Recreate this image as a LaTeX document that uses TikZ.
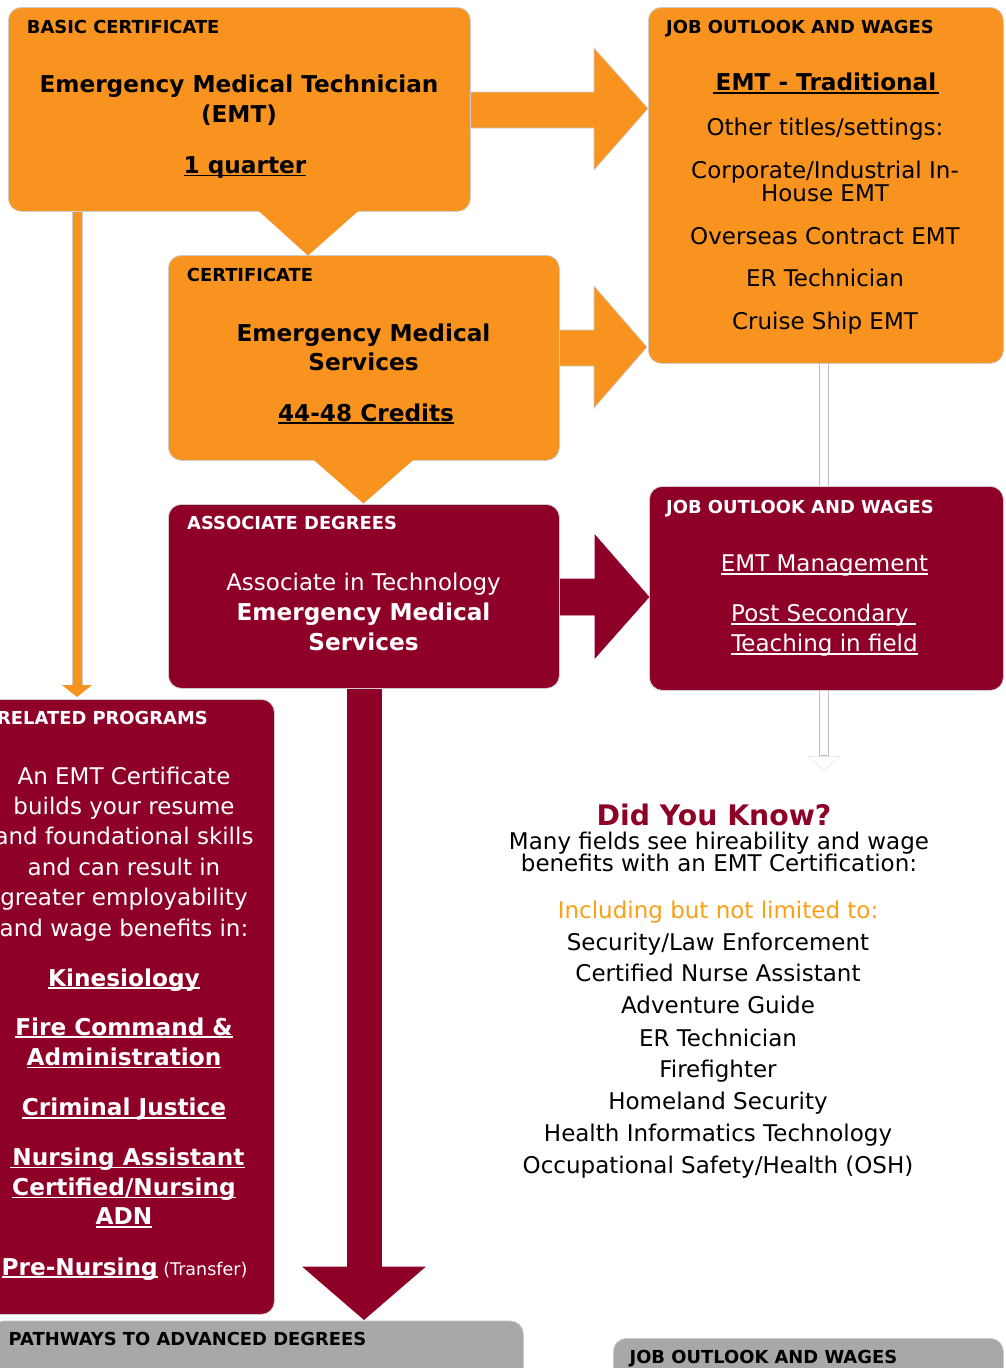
\documentclass[tikz,border=0pt]{standalone}
\usepackage{fontspec}
\setmainfont{DejaVu Sans}
\definecolor{orng}{RGB}{247,147,30}
\definecolor{maroonc}{RGB}{143,0,40}
\definecolor{greybox}{RGB}{168,168,168}
\definecolor{orngtext}{RGB}{250,160,20}
\definecolor{edgegrey}{RGB}{205,205,205}
\newcommand{\myul}[2][1.6pt]{\setbox0\hbox{#2}\rlap{\rule[-2.8pt]{\wd0}{#1}}\box0}
\begin{document}
\begin{tikzpicture}[x=1pt,y=-1pt,
  box/.style={draw=edgegrey, line width=0.8pt, rounded corners=13pt, anchor=north west, inner sep=0pt},
  hdr/.style={anchor=base west, inner sep=0pt, font=\fontsize{17.9}{20}\selectfont\bfseries},
  txtline/.style={anchor=base, inner sep=0pt, font=\fontsize{23}{28}\selectfont},
  bline/.style={anchor=base, inner sep=0pt, font=\fontsize{23.2}{28}\selectfont\bfseries},
  blockarrow/.style={draw=edgegrey, line width=0.6pt},
]
\useasboundingbox (0,0) rectangle (1005,1368);
\clip (0,0) rectangle (1005,1368);

% ---- connectors drawn below boxes ----
\draw[blockarrow, fill=orng] (460,92) -- (594,92) -- (594,48) -- (648,108.5) -- (594,170) -- (594,128) -- (460,128) -- cycle;
\draw[blockarrow, fill=orng] (550,330) -- (594,330) -- (594,286) -- (647,347) -- (594,408) -- (594,366) -- (550,366) -- cycle;
\draw[draw=maroonc, line width=0.6pt, fill=maroonc] (550,579) -- (595,579) -- (595,535) -- (649,597) -- (595,658) -- (595,615) -- (550,615) -- cycle;
\draw[fill=white, draw=black!25, line width=0.8pt] (819.5,358) rectangle (828.5,490);
\draw[fill=white, draw=black!25, line width=0.8pt] (819.5,686) rectangle (828.5,755);
\draw[fill=white, draw=black!8, line width=0.8pt] (808,756.5) -- (840,756.5) -- (824,770) -- cycle;
\draw[blockarrow, fill=orng] (72,205) rectangle (82,686);
\fill[orng] (62,685) -- (92,685) -- (77,697) -- cycle;
\fill[maroonc] (346.5,684) rectangle (381.5,1267);
\fill[maroonc] (302,1266.5) -- (426,1266.5) -- (364,1320) -- cycle;

% ---- boxes ----
\node[box, fill=orng, minimum width=462pt, minimum height=204pt] (basic) at (8,7) {};
\node[box, fill=orng, minimum width=355pt, minimum height=356pt] (job1) at (648,7) {};
\node[box, fill=orng, minimum width=391pt, minimum height=205pt] (cert) at (168,255) {};
\node[box, fill=maroonc, minimum width=391pt, minimum height=184pt] (assoc) at (168,504) {};
\node[box, fill=maroonc, minimum width=354pt, minimum height=204pt] (job2) at (649,486) {};
\node[box, fill=maroonc, minimum width=296pt, minimum height=615pt] (related) at (-22,699) {};
\node[box, fill=greybox, minimum width=533pt, minimum height=100pt] (pathways) at (-10,1320.5) {};
\node[box, fill=greybox, minimum width=390pt, minimum height=60pt] (job3) at (613,1338) {};

% ---- pointers below boxes ----
\fill[orng] (257,209.5) -- (360,209.5) -- (308,255.5) -- cycle;
\fill[orng] (312,458.5) -- (415,458.5) -- (363.5,503.5) -- cycle;

% ---- box 1 ----
\node[hdr] (basich) at (26.7,33.3) {BASIC CERTIFICATE};
\node[bline] (basict1) at (239,92.7) {Emergency Medical Technician};
\node[bline] (basict2) at (239,122.7) {(EMT)};
\node[bline] (basict3) at (245,173.3) {\myul{1 quarter}};

% ---- job outlook 1 ----
\node[hdr] (job1h) at (666,33.3) {JOB OUTLOOK AND WAGES};
\node[bline] (job1t1) at (826,90.7) {\myul{\kern3pt EMT - Traditional\kern3pt}};
\node[txtline] (job1t2) at (825,135) {Other titles/settings:};
\node[txtline] (job1t3) at (825,178.3) {Corporate/Industrial In-};
\node[txtline] (job1t4) at (825,201) {House EMT};
\node[txtline] (job1t5) at (825,244.3) {Overseas Contract EMT};
\node[txtline] (job1t6) at (825,286.7) {ER Technician};
\node[txtline] (job1t7) at (825,329.3) {Cruise Ship EMT};

% ---- certificate ----
\node[hdr] (certh) at (186.7,281) {CERTIFICATE};
\node[bline] (certt1) at (363.5,341) {Emergency Medical};
\node[bline] (certt2) at (363.5,370.7) {Services};
\node[bline] (certt3) at (366,421) {\myul{44-48 Credits}};

% ---- associate ----
\node[hdr, text=white] (assoch) at (187,529) {ASSOCIATE DEGREES};
\node[txtline, text=white] (assoct1) at (363.5,590) {Associate in Technology};
\node[bline, text=white] (assoct2) at (363.5,620) {Emergency Medical};
\node[bline, text=white] (assoct3) at (363.5,650) {Services};

% ---- job outlook 2 ----
\node[hdr, text=white] (job2h) at (666,513.3) {JOB OUTLOOK AND WAGES};
\node[txtline, text=white] (job2t1) at (824.5,571.7) {\myul[1.3pt]{EMT Management}};
\node[txtline, text=white] (job2t2) at (823.5,621.7) {\myul[1.3pt]{Post Secondary\ }};
\node[txtline, text=white] (job2t3) at (824.5,651.7) {\myul[1.3pt]{Teaching in field}};

% ---- related programs ----
\node[hdr, text=white] (relh) at (-3,724.7) {RELATED PROGRAMS};
\node[txtline, text=white] (relt1) at (124,784.7) {An EMT Certificate};
\node[txtline, text=white] (relt2) at (124,814.5) {builds your resume};
\node[txtline, text=white] (relt3) at (124,844.3) {and foundational skills};
\node[txtline, text=white] (relt4) at (124,875.7) {and can result in};
\node[txtline, text=white] (relt5) at (124,905.5) {greater employability};
\node[txtline, text=white] (relt6) at (124,936) {and wage benefits in:};
\node[bline, text=white] (relk) at (124,986) {\myul{Kinesiology}};
\node[bline, text=white] (relf1) at (124,1035) {\myul{Fire Command \&}};
\node[bline, text=white] (relf2) at (124,1065.5) {\myul{Administration}};
\node[bline, text=white] (relc) at (124,1115.7) {\myul{Criminal Justice}};
\node[bline, text=white] (reln1) at (127.5,1165.5) {\myul{\kern2pt Nursing Assistant}};
\node[bline, text=white] (reln2) at (124,1195.3) {\myul{Certified/Nursing}};
\node[bline, text=white] (reln3) at (124,1224.7) {\myul{ADN}};
\node[bline, text=white] (relp) at (124.5,1275) {\myul{Pre-Nursing}{\fontsize{17.5}{20}\selectfont\mdseries\ (Transfer)}};

% ---- bottom grey ----
\node[hdr] (pathh) at (8.5,1345) {PATHWAYS TO ADVANCED DEGREES};
\node[hdr] (job3h) at (629.4,1363.3) {JOB OUTLOOK AND WAGES};

% ---- did you know ----
\node[anchor=base, inner sep=0pt, font=\fontsize{28.3}{30}\selectfont\bfseries, text=maroonc] (dyk) at (714,825) {Did You Know?};
\node[txtline] (dyk1) at (719,849.3) {Many fields see hireability and wage};
\node[txtline] (dyk2) at (719,871.7) {benefits with an EMT Certification:};
\node[txtline, text=orngtext] (dyk3) at (718,918.3) {Including but not limited to:};
\node[txtline] (dyk4) at (718,950) {Security/Law Enforcement};
\node[txtline] (dyk5) at (718,981.7) {Certified Nurse Assistant};
\node[txtline] (dyk6) at (718,1013.3) {Adventure Guide};
\node[txtline] (dyk7) at (718,1046) {ER Technician};
\node[txtline] (dyk8) at (718,1077.3) {Firefighter};
\node[txtline] (dyk9) at (718,1109.3) {Homeland Security};
\node[txtline] (dyk10) at (718,1141.7) {Health Informatics Technology};
\node[txtline] (dyk11) at (718,1173.3) {Occupational Safety/Health (OSH)};
\end{tikzpicture}
\end{document}
